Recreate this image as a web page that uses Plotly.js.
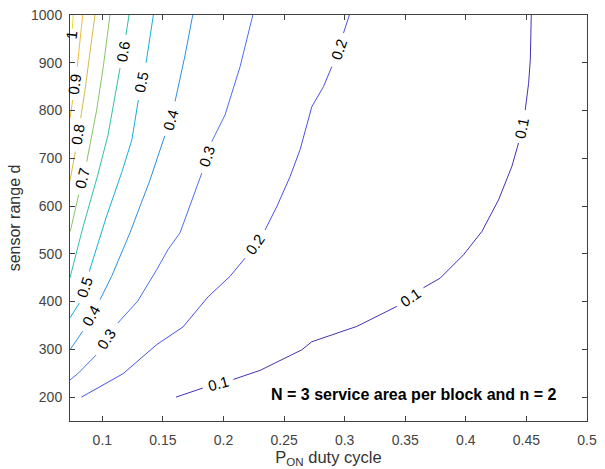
<!DOCTYPE html>
<html>
<head>
<meta charset="utf-8">
<script src="https://cdn.plot.ly/plotly-3.0.1.min.js"></script>
<style>
html,body{margin:0;padding:0;background:#fff;}
#chart{width:605px;height:469px;}
</style>
</head>
<body>
<div id="chart"></div>
<script>
// Contour levels and their colours (parula-like)
const levels = [0.1, 0.2, 0.3, 0.4, 0.5, 0.6, 0.7, 0.8, 0.9, 1.0];
const levelColors = ['#4431b6', '#4b50e6', '#4a6ef3', '#2e8ee8', '#16afd8', '#2fc1a6', '#86c567', '#d9b947', '#f1bd35', '#f3da22'];

// Contour line paths (null = gap at a contour label)
const c01x = [0.1608, 0.1829, null, 0.2081, 0.2302, 0.2646, 0.2729, 0.3100, 0.3431, null, 0.3650, 0.3788, 0.3981, 0.4133, 0.4270, 0.4380, 0.4435, null, 0.4490, 0.4518, 0.4532, 0.4540];
const c01y = [200, 219, null, 237, 256, 299, 316, 348, 390, null, 429, 449, 498, 547, 613, 683, 732, null, 801, 857, 906, 1000];
const c02x = [0.0828, 0.1171, 0.1449, 0.1666, 0.1873, 0.2054, 0.2178, null, 0.2343, 0.2440, 0.2550, 0.2632, 0.2729, 0.2825, 0.2894, null, 0.2990, 0.3039];
const c02y = [200, 249, 310, 347, 410, 453, 491, null, 550, 599, 662, 718, 808, 850, 892, null, 962, 1000];
const c03x = [0.0733, 0.0797, 0.0948, null, 0.1127, 0.1292, 0.1449, 0.1542, 0.1641, 0.1732, 0.1821, null, 0.1903, 0.2013, 0.2137, 0.2242];
const c03y = [236, 249, 288, null, 355, 401, 467, 509, 544, 607, 669, null, 735, 791, 892, 1000];
const c04x = [0.1746, 0.1683, 0.1600, null, 0.1515, 0.1476, 0.1394, 0.1228, 0.1077, 0.0981, null, 0.0838, 0.0733];
const c04y = [1000, 916, 819, null, 747, 718, 655, 544, 453, 404, null, 338, 299];
const c05x = [0.1421, 0.1361, null, 0.1297, 0.1243, 0.1162, 0.1030, 0.0892, null, 0.0810, 0.0733];
const c05y = [1000, 900, null, 822, 738, 672, 575, 463, null, 397, 366];
const c06x = [0.1220, 0.1195, null, 0.1146, 0.1096, 0.1047, 0.0962, 0.0838, 0.0733];
const c06y = [1000, 958, null, 889, 822, 749, 665, 554, 450];
const c07x = [0.1063, 0.1008, 0.0953, 0.0871, null, 0.0805, 0.0735];
const c07y = [1000, 892, 801, 693, null, 624, 547];
const c08x = [0.0939, 0.0898, 0.0857, 0.0821, null, 0.0777, 0.0733];
const c08y = [1000, 920, 843, 784, null, 714, 653];
const c09x = [0.0838, 0.0816, 0.0793, null, 0.0755, 0.0733];
const c09y = [1000, 948, 892, null, 822, 784];
const c10x = [0.0760, 0.0752];
const c10y = [1000, 971];

// Contour labels: text, position, rotation
const labelText  = ['1', '0.9', '0.8', '0.7', '0.6', '0.5', '0.4', '0.3', '0.2', '0.1', '0.2', '0.1', '0.1', '0.3', '0.4', '0.5'];
const labelX     = [0.0741, 0.0774, 0.0799, 0.0838, 0.1173, 0.1325, 0.1559, 0.1864, 0.2954, 0.4463, 0.2261, 0.3541, 0.1955, 0.1037, 0.0909, 0.0851];
const labelY     = [958, 856, 749, 659, 923, 860, 780, 703, 927, 764, 519, 409, 228, 322, 370, 430];
const labelAngle = [-84, -82, -81, -76, -80, -78, -74, -72, -71, -79, -55, -35, -15, -56, -61, -72];

// Axis ticks
const xTicks = [0.1, 0.15, 0.2, 0.25, 0.3, 0.35, 0.4, 0.45, 0.5];
const xTickText = ['0.1', '0.15', '0.2', '0.25', '0.3', '0.35', '0.4', '0.45', '0.5'];
const yTicks = [200, 300, 400, 500, 600, 700, 800, 900, 1000];

const noteText = 'N = 3 service area per block and n = 2';

const xs = [c01x, c02x, c03x, c04x, c05x, c06x, c07x, c08x, c09x, c10x];
const ys = [c01y, c02y, c03y, c04y, c05y, c06y, c07y, c08y, c09y, c10y];

const FONT = 'Liberation Sans, Arial, Helvetica, sans-serif';

const traces = levels.map((lv, i) => ({
  type: 'scatter', mode: 'lines',
  x: xs[i], y: ys[i],
  connectgaps: false,
  line: {color: levelColors[i], width: 1},
  hoverinfo: 'skip', showlegend: false, name: String(lv)
}));

const annotations = labelText.map((t, i) => ({
  x: labelX[i], y: labelY[i], xref: 'x', yref: 'y',
  text: t, showarrow: false, textangle: labelAngle[i],
  font: {family: FONT, size: 15, color: '#000'},
  xanchor: 'center', yanchor: 'middle'
}));
annotations.push({
  x: 0.3571, y: 205, xref: 'x', yref: 'y', text: '<b>' + noteText + '</b>',
  showarrow: false, font: {family: FONT, size: 16, color: '#000'},
  xanchor: 'center', yanchor: 'middle'
});

const axisCommon = {
  showline: true, linecolor: '#404040', linewidth: 1, mirror: 'ticks',
  ticks: 'inside', ticklen: 5, tickwidth: 1, tickcolor: '#404040',
  showgrid: false, zeroline: false,
  tickfont: {family: FONT, size: 14, color: '#444'}
};

const layout = {
  width: 605, height: 469,
  margin: {l: 70, r: 18, t: 15, b: 47.5, pad: 0},
  paper_bgcolor: '#fff', plot_bgcolor: '#fff',
  showlegend: false,
  font: {family: FONT},
  xaxis: Object.assign({}, axisCommon, {
    range: [0.0733, 0.5], tickmode: 'array', tickvals: xTicks, ticktext: xTickText,
    ticklabelstandoff: 6,
    title: {text: 'P<sub>ON</sub> duty cycle', font: {family: FONT, size: 16.5, color: '#333'}, standoff: 4}
  }),
  yaxis: Object.assign({}, axisCommon, {
    range: [150, 1000], tickmode: 'array', tickvals: yTicks,
    ticklabelstandoff: 4,
    title: {text: 'sensor range d', font: {family: FONT, size: 16, color: '#333'}, standoff: 6}
  }),
  annotations: annotations
};

Plotly.newPlot('chart', traces, layout, {staticPlot: true, displayModeBar: false});
</script>
</body>
</html>
